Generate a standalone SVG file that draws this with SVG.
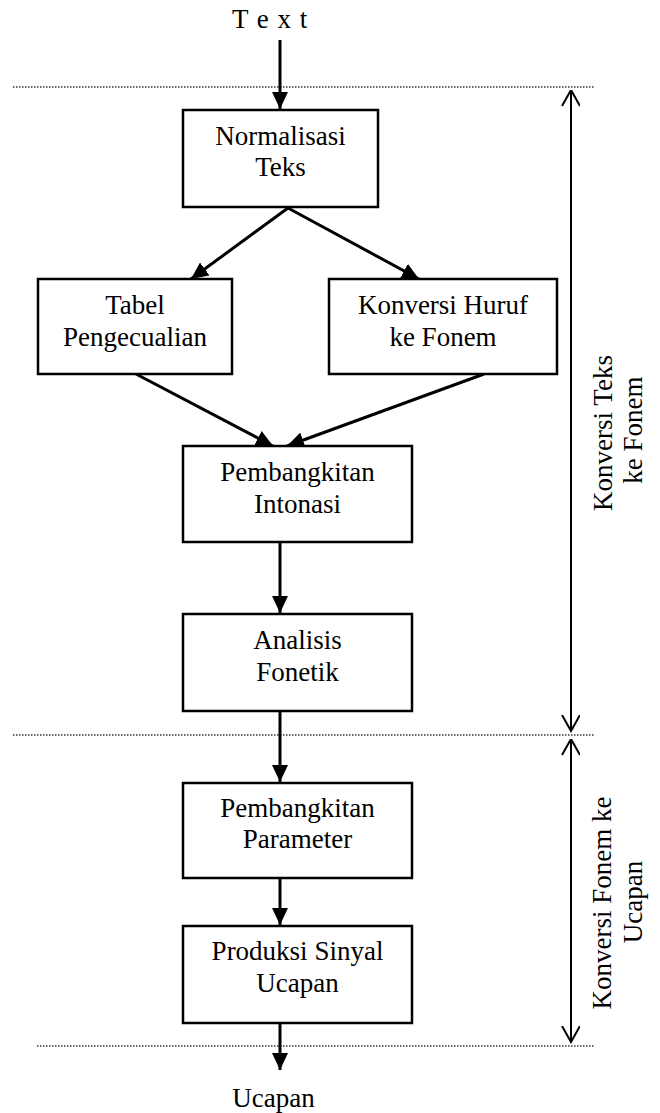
<svg xmlns="http://www.w3.org/2000/svg" width="660" height="1113" viewBox="0 0 660 1113">
<defs>
<style>
text{font-family:"Liberation Serif","Times New Roman",serif;font-size:27px;fill:#000}
.box rect{fill:#fff;stroke:#000;stroke-width:2.5}
.box text{text-anchor:middle}
.flow line{stroke:#000;stroke-width:3;marker-end:url(#ah)}
.dots line{stroke:#333;stroke-width:1.5;stroke-dasharray:1.5 1.5}
.span line{stroke:#000;stroke-width:2;marker-start:url(#vs);marker-end:url(#ve)}
.lbl{text-anchor:middle}
</style>
<marker id="ah" markerUnits="userSpaceOnUse" markerWidth="18" markerHeight="16" refX="17" refY="8" orient="auto">
<path d="M0,0 L17,8 L0,16 z" fill="#000"/>
</marker>
<marker id="ve" markerUnits="userSpaceOnUse" markerWidth="18" markerHeight="20" refX="16" refY="9" orient="auto">
<path d="M0,0 L16,9 L0,18" fill="none" stroke="#000" stroke-width="2"/>
</marker>
<marker id="vs" markerUnits="userSpaceOnUse" markerWidth="18" markerHeight="20" refX="0" refY="9" orient="auto">
<path d="M16,0 L0,9 L16,18" fill="none" stroke="#000" stroke-width="2"/>
</marker>
</defs>
<rect width="660" height="1113" fill="#fff"/>

<g id="dotted-lines" class="dots">
<line x1="13" y1="87" x2="594" y2="87"/>
<line x1="13" y1="735" x2="594" y2="735"/>
<line x1="37" y1="1046" x2="594" y2="1046"/>
</g>

<g id="connectors" class="flow">
<line x1="280" y1="40" x2="280" y2="109"/>
<line x1="288" y1="208" x2="191" y2="279"/>
<line x1="288" y1="208" x2="419" y2="279"/>
<line x1="136" y1="374" x2="273" y2="446"/>
<line x1="484" y1="374" x2="287" y2="446"/>
<line x1="280" y1="542" x2="280" y2="613"/>
<line x1="280" y1="711" x2="280" y2="782"/>
<line x1="280" y1="878" x2="280" y2="925"/>
<line x1="280" y1="1023" x2="280" y2="1070"/>
</g>

<g id="spans" class="span">
<line x1="571" y1="90" x2="571" y2="731"/>
<line x1="571" y1="739" x2="571" y2="1042"/>
</g>

<g id="input"><text x="232" y="28" style="letter-spacing:1px">T e x t</text></g>

<g id="normalisasi" class="box">
<rect x="183" y="110" width="195" height="97"/>
<text x="280.5" y="145">Normalisasi</text>
<text x="280.5" y="176">Teks</text>
</g>

<g id="tabel" class="box">
<rect x="38" y="279" width="194" height="95"/>
<text x="135" y="314">Tabel</text>
<text x="135" y="346">Pengecualian</text>
</g>

<g id="konversi-huruf" class="box">
<rect x="329" y="279" width="228" height="95"/>
<text x="443" y="314">Konversi Huruf</text>
<text x="443" y="346">ke Fonem</text>
</g>

<g id="intonasi" class="box">
<rect x="183" y="446" width="229" height="96"/>
<text x="297.5" y="481">Pembangkitan</text>
<text x="297.5" y="513">Intonasi</text>
</g>

<g id="fonetik" class="box">
<rect x="183" y="614" width="229" height="97"/>
<text x="297.5" y="649">Analisis</text>
<text x="297.5" y="681">Fonetik</text>
</g>

<g id="parameter" class="box">
<rect x="183" y="783" width="229" height="95"/>
<text x="297.5" y="817">Pembangkitan</text>
<text x="297.5" y="848">Parameter</text>
</g>

<g id="produksi" class="box">
<rect x="183" y="926" width="229" height="97"/>
<text x="297.5" y="960">Produksi Sinyal</text>
<text x="297.5" y="992">Ucapan</text>
</g>

<g id="output"><text x="273.5" y="1107" class="lbl">Ucapan</text></g>

<g id="label-teks-fonem">
<text class="lbl" transform="translate(612,433) rotate(-90)">Konversi Teks</text>
<text class="lbl" transform="translate(642,430) rotate(-90)">ke Fonem</text>
</g>

<g id="label-fonem-ucapan">
<text class="lbl" transform="translate(611,903) rotate(-90)">Konversi Fonem ke</text>
<text class="lbl" transform="translate(642,902) rotate(-90)">Ucapan</text>
</g>
</svg>
